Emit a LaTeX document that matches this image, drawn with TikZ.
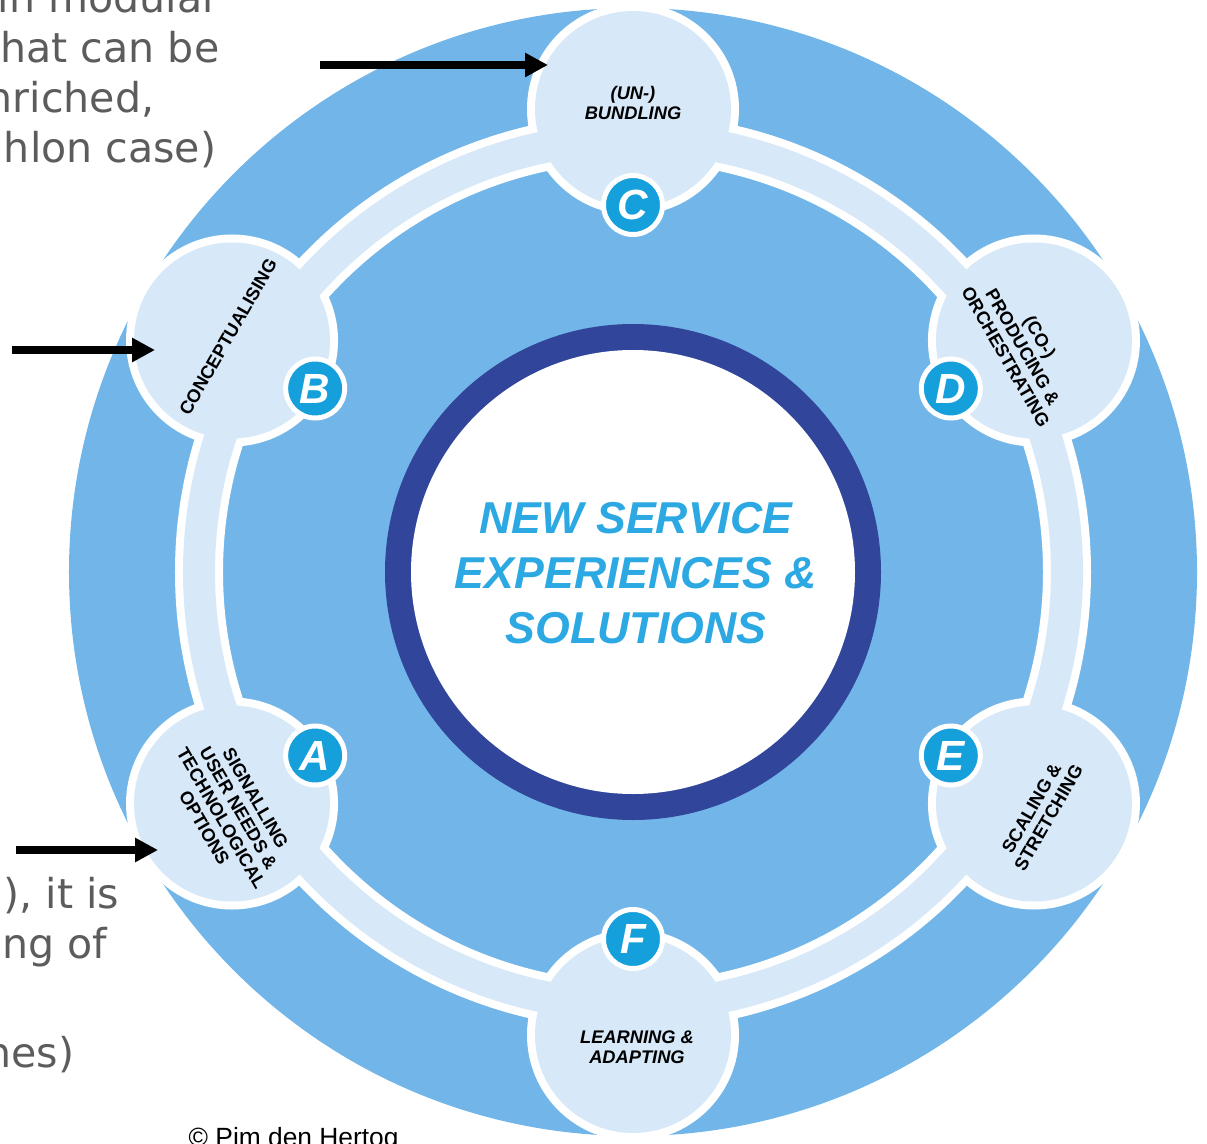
\documentclass[tikz,border=0pt]{standalone}
\usepackage{fontspec}
\setmainfont{Liberation Sans}
\newfontfamily\verdfont{DejaVu Sans}
\usetikzlibrary{arrows.meta}
\usetikzlibrary{positioning}
\definecolor{ringblue}{HTML}{72B6E9}
\definecolor{paleblue}{HTML}{D7E8F8}
\definecolor{navy}{HTML}{31459B}
\definecolor{badgeblue}{HTML}{15A0DC}
\definecolor{titleblue}{HTML}{2CA8E2}
\definecolor{graytext}{HTML}{5C5C5C}
\tikzset{bub/.style = {circle, fill=paleblue, inner sep=0, outer sep=0, minimum size=1.96cm}}
\tikzset{badge/.style = {circle, fill=badgeblue, draw=white, line width=0.05cm, inner sep=0,
                         minimum size=0.59cm, text=white,
                         font=\fontsize{12}{12}\selectfont\bfseries\itshape}}
\tikzset{bubtext/.style = {align=center, inner sep=0, font=\fontsize{5.2}{5.6}\selectfont\bfseries}}
\tikzset{side/.style = {anchor=base east, inner sep=0, text=graytext,
                        font=\verdfont\fontsize{11.7}{14}\selectfont}}
\tikzset{pointer/.style = {line width=2pt, -{Triangle[length=6.5pt, width=6.5pt]}}}

\begin{document}
\begin{tikzpicture}
      \useasboundingbox (-6.33, 5.72) rectangle (5.74, -5.71);
      \fill [ringblue] circle [radius=5.64];
      \draw [white, line width=0.48cm] circle [radius=4.34];
      \foreach \a in {30, 90, ..., 330}
        \fill [white] (\a:4.63) circle [radius=1.06];
      \draw [paleblue, line width=0.32cm] circle [radius=4.34];
      \node [bub] (bubD) at (30:4.63) {};
      \node [bub] (bubC) at (90:4.63) {};
      \node [bub] (bubB) at (150:4.63) {};
      \node [bub] (bubA) at (210:4.63) {};
      \node [bub] (bubF) at (270:4.63) {};
      \node [bub] (bubE) at (330:4.63) {};
      \fill [navy] circle [radius=2.48];
      \fill [white] circle [radius=2.22];
      \node (core) at (0.03, -0.01) [align=center, text=titleblue,
            font=\fontsize{12.7}{15.65}\selectfont\bfseries\itshape]
            {NEW SERVICE\\EXPERIENCES \&\\SOLUTIONS};
      % bubble texts
      \node (txtC) at (0, 4.69) [bubtext, font=\fontsize{5.2}{5.6}\selectfont\bfseries\itshape]
            {(UN-)\\BUNDLING};
      \node (txtB) at (-4.05, 2.35) [bubtext, rotate=60] {CONCEPTUALISING};
      \node (txtA) at (-4.03, -2.41) [bubtext, rotate=-60]
            {SIGNALLING\\USER NEEDS \&\\TECHNOLOGICAL\\OPTIONS};
      \node (txtD) at (3.90, 2.25) [bubtext, rotate=-60] {(CO-)\\PRODUCING \&\\ORCHESTRATING};
      \node (txtE) at (4.07, -2.41) [bubtext, rotate=60] {SCALING \&\\STRETCHING};
      \node (txtF) at (0.04, -4.75) [bubtext, font=\fontsize{5.2}{5.6}\selectfont\bfseries\itshape]
            {LEARNING \&\\ADAPTING};
      % letters
      \node [badge] (keyA) at (210:3.67) {A};
      \node [badge] (keyB) at (150:3.67) {B};
      \node [badge] (keyC) at (90:3.67) {C};
      \node [badge] (keyD) at (30:3.67) {D};
      \node [badge] (keyE) at (330:3.67) {E};
      \node [badge] (keyF) at (270:3.67) {F};
      % slide text behind
      \node [side] (lineA) at (-4.13, 5.59) {in modular};
      \node [side] (lineB) at (-4.13, 5.09) {hat can be};
      \node [side] (lineC) at (-4.78, 4.59) {nriched,};
      \node [side] (lineD) at (-4.16, 4.09) {hlon case)};
      \node [side] (lineE) at (-5.13, -3.36) {), it is};
      \node [side] (lineF) at (-5.25, -3.86) {ng of};
      \node [side] (lineG) at (-5.58, -4.95) {nes)};
      \node (credit) at (-4.45, -5.74) [anchor=base west, inner sep=0, font=\fontsize{7.5}{9}\selectfont]
            {\textcopyright{} Pim den Hertog};
      % pointers
      \coordinate (tailC) at (-3.13, 5.07);
      \coordinate (tailB) at (-6.21, 2.22);
      \coordinate (tailA) at (-6.17, -2.78);
      \draw [pointer, shorten >=-0.13cm] (tailC) -- (tailC -| bubC.west);
      \draw [pointer, shorten >=-0.21cm] (tailB) -- (tailB -| bubB.west);
      \draw [pointer, shorten >=-0.24cm] (tailA) -- (tailA -| bubA.west);
    \end{tikzpicture}
\end{document}
